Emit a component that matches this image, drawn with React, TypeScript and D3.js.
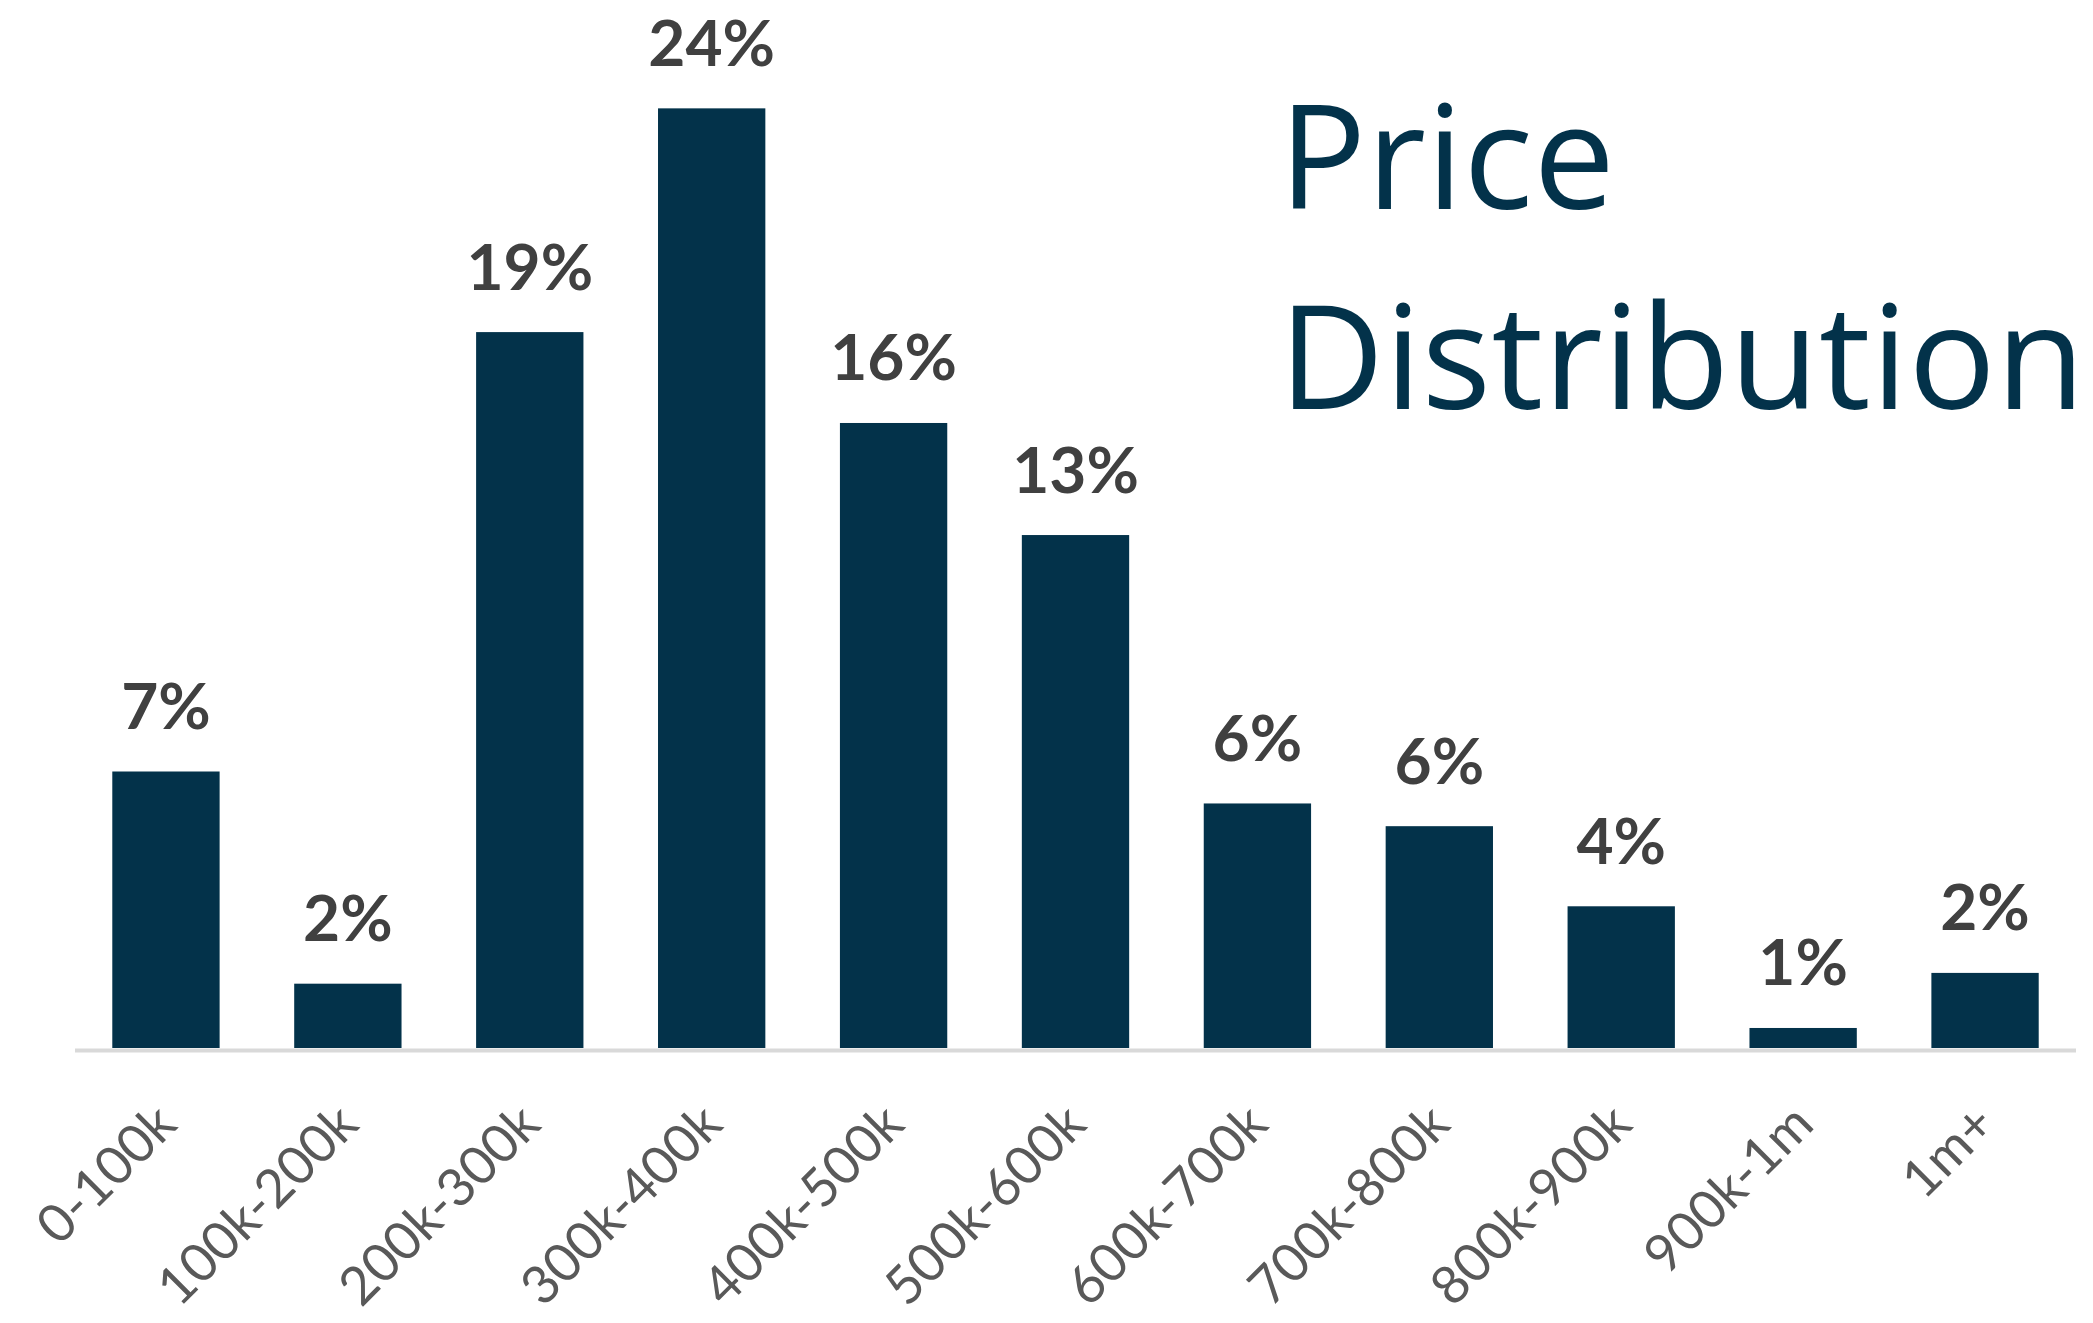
import React from "react";
import * as d3 from "d3";

const categories = [
  "0-100k", "100k-200k", "200k-300k", "300k-400k", "400k-500k", "500k-600k",
  "600k-700k", "700k-800k", "800k-900k", "900k-1m", "1m+",
];
const shares = [0.0718, 0.0167, 0.1859, 0.244, 0.1623, 0.1332, 0.0635, 0.0576, 0.0368, 0.0052, 0.0195];
const titleLines = ["Price", "Distribution"];

const W = 2093;
const H = 1323;
const BAR = "#03324a";
const baseY = 1048;

export default function App() {
  const x = d3.scaleBand<string>().domain(categories).range([75, 2076]).paddingInner(0.41).paddingOuter(0.205);
  const y = d3.scaleLinear().domain([0, 0.25]).range([baseY, baseY - 0.25 * 3851]);
  const fmt = d3.format(".0%");
  return (
    <svg width={W} height={H} style={{ position: "absolute", left: 0, top: 0, background: "#fff" }}>
      <rect x={0} y={0} width={W} height={H} fill="#fff" />
      {categories.map((c, i) => (
        <rect key={c} x={x(c)} y={y(shares[i])} width={x.bandwidth()} height={y(0) - y(shares[i])} fill={BAR} />
      ))}
      <line x1={75} x2={2076} y1={baseY + 2.5} y2={baseY + 2.5} stroke="#d9d9d9" strokeWidth={4} />
      {categories.map((c, i) => (
        <text
          key={"v" + c}
          x={(x(c) as number) + x.bandwidth() / 2}
          y={y(shares[i]) - 42.5}
          textAnchor="middle"
          fontFamily="Lato, sans-serif"
          fontWeight={700}
          fontSize={64}
          fill="#404040"
        >
          {fmt(shares[i])}
        </text>
      ))}
      {categories.map((c) => {
        const cx = (x(c) as number) + x.bandwidth() / 2 + 13;
        const cy = baseY + 79;
        return (
          <text
            key={"c" + c}
            transform={`translate(${cx},${cy}) rotate(-45)`}
            textAnchor="end"
            fontFamily="Lato, sans-serif"
            fontSize={53}
            fill="#595959"
          >
            {c}
          </text>
        );
      })}
      {titleLines.map((t, i) => (
        <text
          key={t}
          x={1279}
          y={209 + i * 199.5}
          fontFamily="'Open Sans', sans-serif"
          fontSize={145}
          letterSpacing={0.5}
          fill={BAR}
        >
          {t}
        </text>
      ))}
    </svg>
  );
}
